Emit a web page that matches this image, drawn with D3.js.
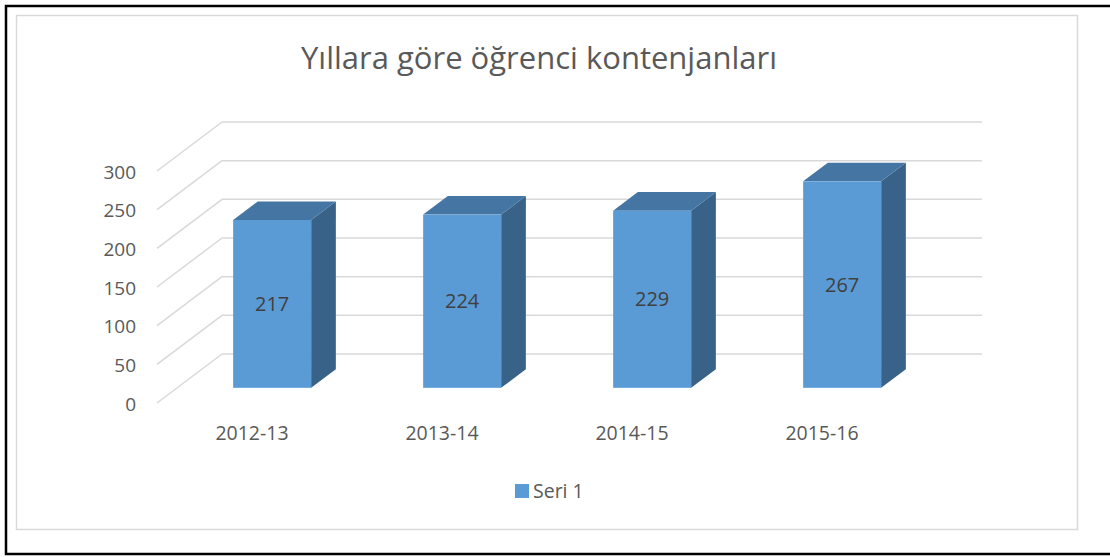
<!DOCTYPE html>
<html>
<head>
<meta charset="utf-8">
<script src="https://cdn.jsdelivr.net/npm/d3@7"></script>
<style>
  body { margin: 0; background: #fff; }
  svg { display: block; font-family: 'Open Sans', 'Noto Sans', sans-serif; }
</style>
</head>
<body>
<div id="container"></div>
<script>
//### DATA ###
const categories = [ '2012-13', '2013-14', '2014-15', '2015-16' ];
const values = [ 217, 224, 229, 267 ];
const yTicks = [ 0, 50, 100, 150, 200, 250, 300 ];
const seriesName = 'Seri 1';
const title = 'Yıllara göre öğrenci kontenjanları';

//### LAYOUT ###
const width = 1110;
const height = 557;
const textGrey = '#595959';
const gridGrey = '#d9d9d9';
const frontColor = '#5b9bd5';
const topColor = '#4575a3';
const sideColor = '#386288';

//>>> Oblique depth vector from the front floor plane to the back wall
const depth = { dx: 65, dy: -49 };
//>>> Bars occupy the middle part of the depth
const barFront = 0.31;
const barBack = 0.69;

const svg = d3.select( '#container' )
  .append( 'svg' )
  .attr( 'width', width )
  .attr( 'height', height );

//_____ FRAMES _____
svg.append( 'rect' )
  .attr( 'x', 6 ).attr( 'y', 6 )
  .attr( 'width', width + 10 ).attr( 'height', 548 )
  .attr( 'fill', 'none' )
  .attr( 'stroke', '#000' )
  .attr( 'stroke-width', 2.5 );

svg.append( 'rect' )
  .attr( 'x', 16.5 ).attr( 'y', 15.5 )
  .attr( 'width', 1061 ).attr( 'height', 514 )
  .attr( 'fill', '#fff' )
  .attr( 'stroke', '#d9d9d9' )
  .attr( 'stroke-width', 1.5 );

//_____ TITLE _____
svg.append( 'text' )
  .attr( 'x', 539 )
  .attr( 'y', 69 )
  .attr( 'text-anchor', 'middle' )
  .attr( 'font-size', 31 )
  .attr( 'fill', textGrey )
  .attr( 'textLength', 476 )
  .attr( 'lengthAdjust', 'spacingAndGlyphs' )
  .text( title );

//_____ SCALES _____
const x = d3.scaleBand()
  .domain( categories )
  .range( [ 157, 917 ] );

const y = d3.scaleLinear()
  .domain( [ 0, 300 ] )
  .range( [ 403, 171 ] );

//_____ GRID (back wall + left side wall lines) _____
const grid = svg.append( 'g' ).attr( 'class', 'grid' );

grid.selectAll( 'line.back' )
  .data( yTicks )
  .enter().append( 'line' )
  .attr( 'class', 'back' )
  .attr( 'x1', x.range()[ 0 ] + depth.dx )
  .attr( 'x2', x.range()[ 1 ] + depth.dx )
  .attr( 'y1', d => y( d ) + depth.dy )
  .attr( 'y2', d => y( d ) + depth.dy )
  .attr( 'stroke', gridGrey )
  .attr( 'stroke-width', 1.5 );

grid.selectAll( 'line.side' )
  .data( yTicks )
  .enter().append( 'line' )
  .attr( 'class', 'side' )
  .attr( 'x1', x.range()[ 0 ] )
  .attr( 'x2', x.range()[ 0 ] + depth.dx )
  .attr( 'y1', d => y( d ) )
  .attr( 'y2', d => y( d ) + depth.dy )
  .attr( 'stroke', gridGrey )
  .attr( 'stroke-width', 1.5 );

//_____ Y AXIS LABELS _____
const yAxis = d3.axisLeft( y )
  .tickValues( yTicks )
  .tickSize( 0 )
  .tickPadding( 0 );

const yAxisGroup = svg.append( 'g' )
  .attr( 'transform', 'translate(136,0)' )
  .call( yAxis );
yAxisGroup.select( '.domain' ).remove();
yAxisGroup.selectAll( 'text' )
  .attr( 'dy', '0.38em' )
  .attr( 'font-family', "'Open Sans', sans-serif" )
  .style( 'font-size', '19px' )
  .attr( 'fill', textGrey );

//_____ X AXIS LABELS _____
const xAxis = d3.axisBottom( x )
  .tickSize( 0 )
  .tickPadding( 0 );

const xAxisGroup = svg.append( 'g' )
  .attr( 'transform', 'translate(0,433)' )
  .call( xAxis );
xAxisGroup.select( '.domain' ).remove();
xAxisGroup.selectAll( 'text' )
  .attr( 'dy', '0.36em' )
  .attr( 'y', 0 )
  .attr( 'font-family', "'Open Sans', sans-serif" )
  .style( 'font-size', '19.5px' )
  .attr( 'fill', textGrey );

//_____ 3D BARS _____
const barWidth = 78;
const f = { dx: depth.dx * barFront, dy: depth.dy * barFront };
const b = { dx: depth.dx * barBack, dy: depth.dy * barBack };

const data = categories.map( ( c, i ) => ( { cat: c, value: values[ i ] } ) );

const bars = svg.append( 'g' ).attr( 'class', 'bars' )
  .selectAll( 'g' )
  .data( data )
  .enter().append( 'g' );

const geom = d => {
  const cx = x( d.cat ) + x.bandwidth() / 2;
  const x0 = cx - barWidth / 2 + f.dx;
  const x1 = cx + barWidth / 2 + f.dx;
  const yTop = y( d.value ) + f.dy;
  const yBot = y( 0 ) + f.dy;
  const ddx = b.dx - f.dx;
  const ddy = b.dy - f.dy;
  return { x0, x1, yTop, yBot, ddx, ddy };
};

//>>> Side face
bars.append( 'path' )
  .attr( 'd', d => {
    const g = geom( d );
    return `M${g.x1},${g.yTop} L${g.x1 + g.ddx},${g.yTop + g.ddy} L${g.x1 + g.ddx},${g.yBot + g.ddy} L${g.x1},${g.yBot} Z`;
  } )
  .attr( 'fill', sideColor );

//>>> Top face
bars.append( 'path' )
  .attr( 'd', d => {
    const g = geom( d );
    return `M${g.x0},${g.yTop} L${g.x0 + g.ddx},${g.yTop + g.ddy} L${g.x1 + g.ddx},${g.yTop + g.ddy} L${g.x1},${g.yTop} Z`;
  } )
  .attr( 'fill', topColor );

//>>> Front face
bars.append( 'rect' )
  .attr( 'x', d => geom( d ).x0 )
  .attr( 'y', d => geom( d ).yTop )
  .attr( 'width', barWidth )
  .attr( 'height', d => geom( d ).yBot - geom( d ).yTop )
  .attr( 'fill', frontColor );

//>>> Data labels
bars.append( 'text' )
  .attr( 'x', d => ( geom( d ).x0 + geom( d ).x1 ) / 2 )
  .attr( 'y', d => ( geom( d ).yTop + geom( d ).yBot ) / 2 )
  .attr( 'dy', '0.36em' )
  .attr( 'text-anchor', 'middle' )
  .attr( 'font-size', 20 )
  .attr( 'fill', '#404040' )
  .text( d => d.value );

//_____ LEGEND _____
const legend = svg.append( 'g' ).attr( 'id', 'legend' );
legend.append( 'rect' )
  .attr( 'x', 515 ).attr( 'y', 484 )
  .attr( 'width', 14 ).attr( 'height', 14 )
  .attr( 'fill', frontColor );
legend.append( 'text' )
  .attr( 'x', 533 ).attr( 'y', 498 )
  .attr( 'font-size', 19.5 )
  .attr( 'fill', textGrey )
  .text( seriesName );
</script>
</body>
</html>
